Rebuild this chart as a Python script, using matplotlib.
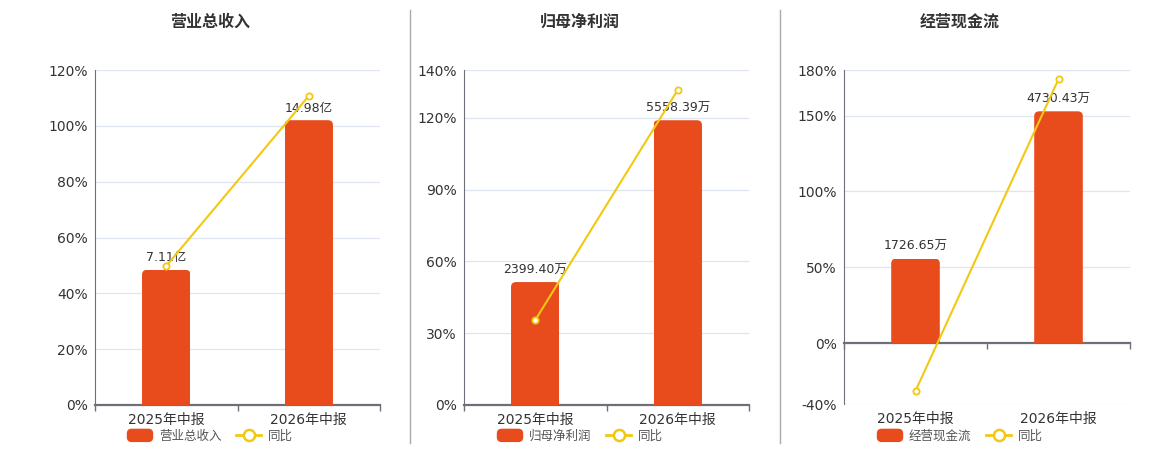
import matplotlib
matplotlib.use('Agg')
import matplotlib.pyplot as plt
from matplotlib.lines import Line2D
from matplotlib.patches import FancyBboxPatch, Patch
from matplotlib.legend_handler import HandlerPatch
from matplotlib.ticker import FixedLocator, PercentFormatter

plt.rcParams['font.family'] = ['DejaVu Sans', 'Noto Sans CJK SC']
plt.rcParams['axes.unicode_minus'] = False

# data
categories = ['2025年中报', '2026年中报']
titles = ['营业总收入', '归母净利润', '经营现金流']
units = ['亿', '万', '万']
revenue = [7.11, 14.98]          # 亿
net_profit = [2399.40, 5558.39]  # 万
cash_flow = [1726.65, 4730.43]   # 万
revenue_yoy = [49.8, 110.7]      # %
profit_yoy = [35.5, 131.66]
cash_yoy = [-31.4, 173.96]
revenue_ticks = [0, 20, 40, 60, 80, 100, 120]
profit_ticks = [0, 30, 60, 90, 120, 140]
cash_ticks = [-40, 0, 50, 100, 150, 180]

bar_color = '#e84b1c'
line_color = '#f2c811'
axis_color = '#6e7079'
grid_color = '#e0e6f1'
text_color = '#333333'

W, H = 1160, 450
fig = plt.figure(figsize=(W / 100, H / 100), dpi=100)

# left, right, top, bottom in pixels / bar axis limits / title+legend center
panels = [
    dict(box=(95, 380, 70, 405), bar_lim=(0, 17.62), center=210,
         bars=revenue, yoy=revenue_yoy, ticks=revenue_ticks),
    dict(box=(464, 749, 70, 405), bar_lim=(0, 6539), center=580,
         bars=net_profit, yoy=profit_yoy, ticks=profit_ticks),
    dict(box=(844, 1130, 70, 404), bar_lim=(-1238, 5573), center=960,
         bars=cash_flow, yoy=cash_yoy, ticks=cash_ticks),
]


def round_patch(legend, orig_handle, xdescent, ydescent, width, height, fontsize):
    return FancyBboxPatch((-xdescent, -ydescent), width, height,
                          boxstyle='round,pad=0,rounding_size=3')


for i, p in enumerate(panels):
    l, r, t, b = p['box']
    rect = [l / W, 1 - b / H, (r - l) / W, (b - t) / H]
    ax = fig.add_axes(rect)
    ticks = p['ticks']
    ax.set_ylim(ticks[0], ticks[-1])
    ax.set_xlim(-0.5, 1.5)
    ax.yaxis.set_major_locator(FixedLocator(ticks))
    ax.yaxis.set_major_formatter(PercentFormatter(decimals=0))
    ax.tick_params(axis='y', length=0, pad=5, labelsize=10, labelcolor=text_color)
    ax.yaxis.grid(True, color=grid_color, lw=0.9)
    ax.set_axisbelow(True)
    ax.set_xticks([])
    ax.set_xticks([-0.5, 0.5, 1.5], minor=True)
    ax.tick_params(axis='x', which='minor', direction='out', length=4,
                   width=1, color=axis_color)
    for s in ['top', 'right']:
        ax.spines[s].set_visible(False)
    ax.spines['left'].set_color(axis_color)
    ax.spines['left'].set_linewidth(0.8)
    ax.spines['bottom'].set_color(axis_color)
    ax.spines['bottom'].set_linewidth(1.6)
    if ticks[0] < 0:
        ax.spines['bottom'].set_position(('data', 0))
    for k, c in enumerate(categories):
        ax.annotate(c, (k, 0), xycoords=('data', 'axes fraction'),
                    xytext=(0, -11), textcoords='offset points',
                    ha='center', va='center', fontsize=10, color=text_color)

    # bars on a hidden twin axis
    axb = ax.twinx()
    axb.set_ylim(*p['bar_lim'])
    axb.axis('off')
    width = 0.34
    bars = axb.bar(range(len(categories)), p['bars'], width=width, color=bar_color)
    pxx = (r - l) / 2.0
    pxy = (b - t) / (p['bar_lim'][1] - p['bar_lim'][0])
    rad = 5 / pxx
    for bar in bars:
        x0, w, h = bar.get_x(), bar.get_width(), bar.get_height()
        # rounded box reaching below the baseline, clipped by the plain bar
        rb = FancyBboxPatch((x0, -h), w, 2 * h,
                            boxstyle=f'round,pad=0,rounding_size={rad}',
                            mutation_aspect=pxx / pxy,
                            color=bar_color, lw=0)
        axb.add_patch(rb)
        rb.set_clip_path(bar)
        bar.set_visible(False)
        axb.annotate(f'{h:.2f}{units[i]}', (x0 + w / 2, h),
                     xytext=(0, 4), textcoords='offset points',
                     ha='center', va='bottom', fontsize=9, color=text_color)

    # yoy line on another twin with the percent scale
    axl = ax.twinx()
    axl.set_ylim(ticks[0], ticks[-1])
    axl.axis('off')
    axl.plot(range(len(categories)), p['yoy'], color=line_color, lw=1.5,
             marker='o', ms=4.5, mfc='white', mec=line_color, mew=1.3)

    fig.text(p['center'] / W, 1 - 22 / H, titles[i], ha='center', va='center',
             fontsize=11.5, fontweight='bold', color=text_color,
             family=['Noto Sans CJK SC', 'DejaVu Sans'])

    handles = [Patch(color=bar_color, label=titles[i]),
               Line2D([], [], color=line_color, lw=2, marker='o', ms=8,
                      mfc='white', mec=line_color, mew=1.8, label='同比')]
    fig.legend(handles=handles, loc='center',
               bbox_to_anchor=(p['center'] / W, 1 - 436 / H), ncol=2,
               frameon=False, fontsize=9, labelcolor='#555555',
               handlelength=2.0, handleheight=1.1, handletextpad=0.5,
               columnspacing=1.2, borderpad=0,
               handler_map={Patch: HandlerPatch(patch_func=round_patch)})

# separators
for x in [410, 780]:
    fig.add_artist(Line2D([x / W, x / W], [1 - 10 / H, 1 - 443 / H],
                          transform=fig.transFigure, color='#aaaaaa', lw=1))

fig.savefig('out.png', dpi=100)
